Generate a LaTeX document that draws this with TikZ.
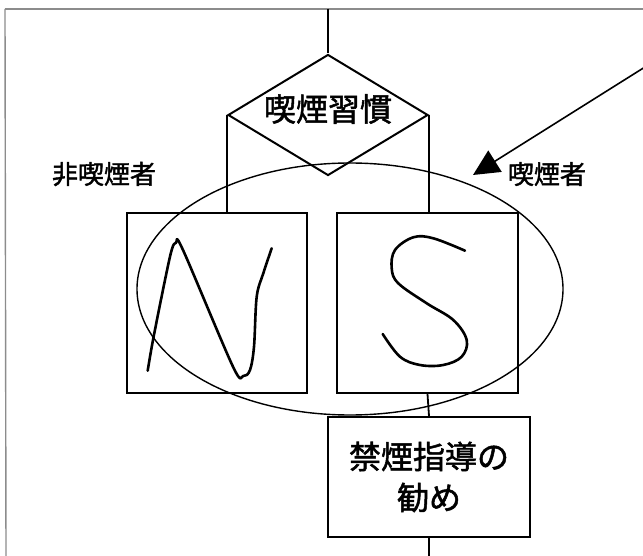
\documentclass[tikz,border=0pt]{standalone}
\usepackage{fontspec}
\newfontfamily\jp{Noto Sans CJK JP}[FakeBold=1.6]
\usetikzlibrary{shapes.geometric,arrows.meta}
\begin{document}
\begin{tikzpicture}[x=1pt,y=-1pt,
  box/.style={draw,line width=2pt,inner sep=0pt},
  conn/.style={line width=1.8pt},
  frameline/.style={draw=black!45,line width=1.4pt},
  jtext/.style={font=\jp\fontsize{32}{41}\selectfont,align=center},
  lbl/.style={font=\jp\fontsize{26}{30}\selectfont,inner sep=0pt},
  hand/.style={line width=2.6pt,line cap=round,line join=round}]
\useasboundingbox (0,0) rectangle (643,556);
% frame lines
\coordinate (tl) at (5,9);
\coordinate (tr) at (643,9);
\coordinate (bl) at (6,556);
\draw[frameline] (tl) -- (tr);
\draw[frameline] (tl) -- (bl);
% nodes
\coordinate (top) at (328,9);
\node[diamond,draw,line width=2pt,inner sep=0pt,shape aspect=1.65,
      minimum width=200pt,minimum height=121pt] (dia) at (328,115) {};
\node[jtext,inner sep=0pt] (diat) at (328,109) {喫煙習慣};
\node[box,minimum width=180pt,minimum height=180pt] (nbox) at (217,303) {};
\node[box,minimum width=181pt,minimum height=180pt] (sbox) at (427.5,303) {};
\node[box,minimum width=202pt,minimum height=120pt,jtext] (gbox) at (429,477) {禁煙指導の\\勧め};
\coordinate (bot) at (429,556);
\node[lbl] (nlab) at (104,174) {非喫煙者};
\node[lbl] (slab) at (547,174) {喫煙者};
\node[ellipse,draw,line width=1.4pt,minimum width=426pt,minimum height=252pt,inner sep=0pt] (ell) at (350,289) {};
% connectors
\draw[conn] (top) -- (dia.north);
\draw[conn] (dia.west) -- (dia.west |- nbox.north);
\draw[conn] (dia.east) -- (dia.east |- sbox.north);
\draw[conn] (sbox.south) -- (gbox.north);
\draw[conn] (gbox.south) -- (bot);
% arrow
\coordinate (astart) at (645,67);
\coordinate (atip) at (473,175);
\draw[line width=1.6pt,-{Triangle[length=26pt,width=25pt]}] (astart) -- (atip);
% hand drawn N
\draw[hand] plot[smooth,tension=0.55] coordinates {(147.7,370.7) (153,340) (165,280) (171.7,250) (176,242.7) (183,250) (233,366.7) (243.3,376) (250,370) (254,346.7) (256.7,296.7) (263.3,273.3) (271.7,248.3)};
% hand drawn S
\draw[hand] plot[smooth,tension=0.6] coordinates {(465,250.7) (433.3,238.3) (413.3,237.3) (395,250) (391.7,268.3) (398.3,283.3) (426.7,303.3) (453.3,320) (466.7,340) (461.7,356.7) (443.3,365) (420,365) (400,356.7) (382.7,334)};
\end{tikzpicture}
\end{document}
